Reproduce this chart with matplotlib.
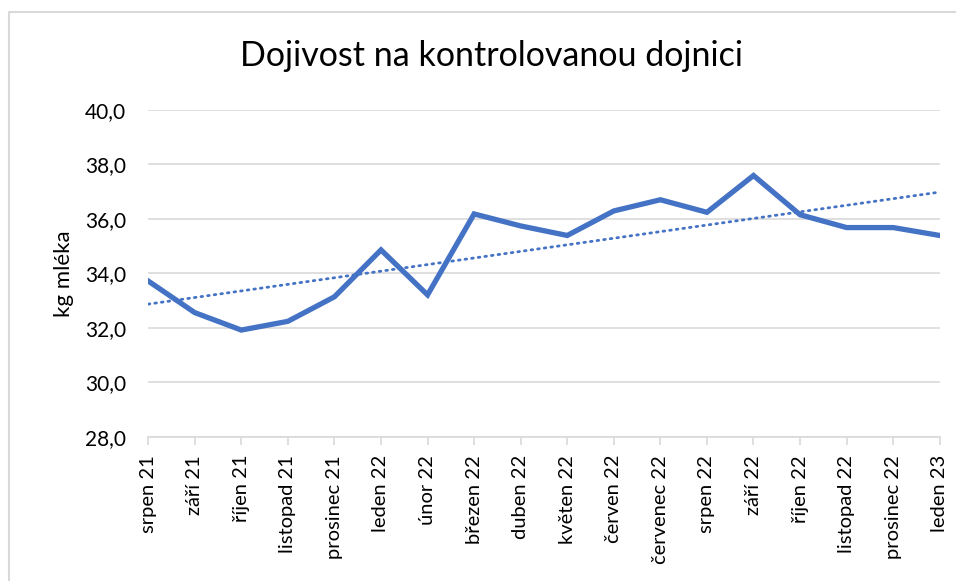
import matplotlib
matplotlib.use("Agg")
import matplotlib.pyplot as plt
import numpy as np
from matplotlib.lines import Line2D
from matplotlib.ticker import FuncFormatter

MONTHS = [
    "srpen 21", "září 21", "říjen 21", "listopad 21", "prosinec 21",
    "leden 22", "únor 22", "březen 22", "duben 22", "květen 22",
    "červen 22", "červenec 22", "srpen 22", "září 22", "říjen 22",
    "listopad 22", "prosinec 22", "leden 23",
]
MILK_KG = [
    33.72, 32.56, 31.92, 32.24, 33.14,
    34.86, 33.21, 36.18, 35.74, 35.39,
    36.29, 36.70, 36.24, 37.59, 36.15,
    35.68, 35.68, 35.39,
]

BLUE = "#4472C4"
GRID = "#d9d9d9"

plt.rcParams["font.family"] = ["Lato", "DejaVu Sans"]

fig = plt.figure(figsize=(9.56, 5.81), dpi=100)
ax = fig.add_axes([0.155, 0.248, 0.828, 0.563])

x = np.arange(len(MONTHS))
ax.plot(x, MILK_KG, color=BLUE, lw=3.8, solid_joinstyle="miter", zorder=3)

# linear trend like the Excel trendline
k, q = np.polyfit(x, MILK_KG, 1)
ax.plot(x, k * x + q, color=BLUE, lw=2.0, linestyle=(0, (0.6, 1.8)),
        dash_capstyle="round", zorder=2)

ax.set_xlim(0, len(MONTHS) - 1)
ax.set_ylim(28, 40)
ax.set_yticks(np.arange(28, 40.1, 2))
ax.yaxis.set_major_formatter(FuncFormatter(lambda v, _: f"{v:.1f}".replace(".", ",")))
ax.set_xticks(x)
ax.set_xticklabels(MONTHS, rotation=90, fontsize=14.5)
ax.tick_params(axis="y", length=0, labelsize=15, pad=16)
ax.tick_params(axis="x", length=6, color=GRID, width=1.2, pad=7)

ax.grid(axis="y", color=GRID, lw=1.2)
ax.set_axisbelow(True)
for side in ["top", "right", "left"]:
    ax.spines[side].set_visible(False)
ax.spines["bottom"].set_color(GRID)
ax.spines["bottom"].set_linewidth(1.2)

ax.set_ylabel("kg mléka", fontsize=16, labelpad=8)
fig.text(0.514, 0.903, "Dojivost na kontrolovanou dojnici", ha="center",
         va="center", fontsize=24.5)

# chart border (only left and top edges visible)
fig.add_artist(Line2D([0.0094, 0.0094, 1.0], [0.0, 0.979, 0.979],
                      transform=fig.transFigure, color=GRID, lw=1.5))

fig.savefig("out.png", dpi=100)
